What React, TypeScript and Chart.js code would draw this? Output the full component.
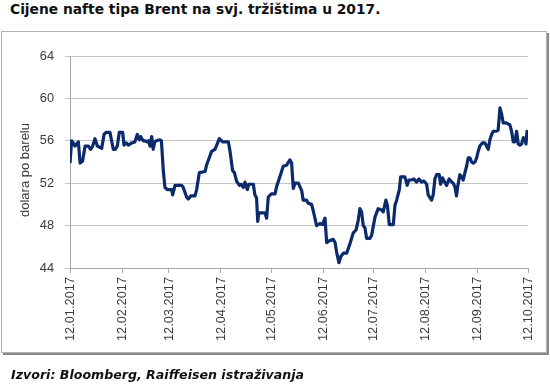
import React, { useEffect, useRef } from "react";
import { Chart, registerables } from "chart.js";

Chart.register(...registerables);

const TITLE = "Cijene nafte tipa Brent na svj. tržištima u 2017.";
const SOURCE = "Izvori: Bloomberg, Raiffeisen istraživanja";
const Y_TITLE = "dolara po barelu";

// x axis: days counted from 12.01.2017
const tickDays = [0, 31, 59, 90, 120, 151, 181, 212, 243, 273];
const tickLabels = [
  "12.01.2017", "12.02.2017", "12.03.2017", "12.04.2017", "12.05.2017",
  "12.06.2017", "12.07.2017", "12.08.2017", "12.09.2017", "12.10.2017",
];
const yMin = 44;
const yMax = 64;
const yStep = 4;

const dayOffsets = [
  0, 1, 2, 3, 5, 6, 7.5, 9, 11, 12.3, 13.5, 14.9, 16.3, 18.9, 20.3, 21.5, 23.8, 25.8, 27, 28.2,
  29.4, 31.4, 32.2, 33.5, 34.8, 36.8, 38.7, 40.1, 41.3, 42.1, 43.5, 44.7, 46, 46.8, 47.7, 48.7, 49.6, 50.5, 51.5, 53.6,
  54.5, 55.6, 56.6, 58, 60.6, 61.2, 62.6, 66.6, 67.5, 69.5, 70.5, 72, 74.5, 75.5, 77.1, 80.5, 81.4, 83, 84.4, 86.4,
  88, 89, 91, 94.4, 95.4, 96.9, 98, 99.3, 101, 102, 103.3, 104.3, 105.7, 106.5, 109.3, 110.2, 111.2, 111.9, 112.6, 116.2,
  117.2, 118.2, 120, 122.2, 123.2, 125.1, 127.1, 129.1, 131.1, 132.1, 133.1, 134.1, 136.1, 138.1, 139, 141, 142, 144, 145, 147,
  149, 150.5, 152, 153, 155, 156.9, 158, 158.9, 160.3, 161.5, 163, 164.9, 166.9, 168.8, 170.5, 171.8, 172.8, 173.8, 174.8, 175.8,
  176.8, 178.8, 179.8, 181.8, 183.7, 185.5, 186.7, 188.3, 189.2, 190.3, 192.7, 193.7, 194.7, 196.3, 197.1, 199.6, 201, 202, 203.6, 205,
  206.6, 208, 209.6, 211, 212.6, 213.5, 215.5, 216.5, 217.5, 218.5, 220.1, 220.9, 222.1, 223, 224.5, 226, 227, 228.4, 229.4, 230.4,
  231, 232.4, 233.4, 234.4, 235.4, 236.4, 237.4, 238.4, 239.4, 240.4, 241.4, 242.4, 243.3, 244.3, 245.8, 247.3, 248.3, 249.3, 250.3, 251.3,
  252.3, 254.2, 255.2, 256.3, 257.3, 258.2, 260, 262.2, 263.2, 264.2, 265.2, 266.2, 267.2, 268.2, 269.2, 270.2, 271.2, 271.8, 272.4, 273,
];

const prices = [
  53.9, 56.0, 55.8, 55.5, 55.9, 53.9, 54.1, 55.5, 55.5, 55.2, 55.5, 56.2, 55.5, 55.3, 56.6, 56.8, 56.8, 55.2, 55.2, 55.5,
  56.8, 56.8, 55.6, 55.8, 55.6, 55.8, 55.9, 56.6, 56.1, 56.4, 56.0, 56.0, 55.9, 56.0, 55.5, 56.4, 55.2, 55.9, 56.0, 56.1,
  56.0, 53.2, 51.6, 51.4, 51.4, 50.9, 51.8, 51.8, 51.6, 50.7, 50.5, 50.8, 50.8, 51.4, 53.0, 53.1, 53.7, 54.4, 55.0, 55.2,
  55.8, 56.2, 55.9, 55.9, 55.0, 53.2, 53.0, 52.2, 51.8, 51.9, 51.6, 52.1, 51.4, 51.9, 51.9, 50.9, 50.6, 48.4, 49.2, 49.2,
  48.7, 50.7, 51.0, 51.0, 51.7, 52.6, 53.6, 53.7, 54.2, 53.9, 51.5, 52.0, 52.0, 51.3, 50.4, 50.4, 50.1, 50.0, 49.4, 48.0,
  48.2, 48.1, 48.7, 46.4, 46.6, 46.7, 46.4, 45.5, 44.5, 45.1, 45.4, 45.4, 46.3, 47.3, 47.6, 48.5, 49.6, 49.3, 48.0, 47.8,
  46.8, 46.8, 47.1, 48.8, 49.6, 49.5, 49.3, 50.4, 49.9, 48.1, 48.1, 49.9, 50.4, 51.4, 52.6, 52.6, 51.8, 52.3, 52.3, 52.4,
  52.1, 52.4, 52.1, 52.2, 51.9, 50.9, 50.4, 50.9, 52.4, 52.8, 52.8, 51.9, 52.5, 52.2, 51.8, 52.4, 52.2, 52.0, 51.7, 50.8,
  51.6, 52.8, 52.6, 52.3, 53.0, 53.6, 54.4, 54.4, 54.0, 53.9, 54.0, 54.4, 55.0, 55.5, 55.8, 55.8, 55.5, 55.2, 56.1, 56.6,
  56.9, 56.9, 57.0, 59.1, 58.5, 57.7, 57.7, 57.5, 56.9, 55.9, 55.9, 56.9, 55.7, 55.6, 55.7, 56.3, 56.1, 55.7, 56.9, 56.7,
];

const LINE_COLOR = "#0b2a6b";
const TEXT_COLOR = "#3a3a3a";
const TICK_FONT = "'Liberation Sans', Arial, sans-serif";

export default function App() {
  const canvasRef = useRef<HTMLCanvasElement | null>(null);

  useEffect(() => {
    const canvas = canvasRef.current;
    if (!canvas) return;

    const yTitlePlugin = {
      id: "yTitlePlugin",
      afterDraw(chart: any) {
        const ctx = chart.ctx;
        ctx.save();
        ctx.translate(25, 170);
        ctx.rotate(-Math.PI / 2);
        ctx.fillStyle = TEXT_COLOR;
        ctx.font = `13px ${TICK_FONT}`;
        ctx.textAlign = "center";
        ctx.textBaseline = "middle";
        ctx.fillText(Y_TITLE, 0, 0);
        ctx.restore();
      },
    };

    const chart = new Chart(canvas, {
      type: "line",
      data: {
        datasets: [
          {
            data: dayOffsets.map((d, i) => ({ x: d, y: prices[i] })),
            borderColor: LINE_COLOR,
            backgroundColor: LINE_COLOR,
            borderWidth: 3.2,
            pointRadius: 0,
            tension: 0,
            fill: false,
            borderJoinStyle: "round",
          },
        ],
      },
      options: {
        responsive: false,
        animation: false,
        devicePixelRatio: 1,
        layout: { padding: { left: 0, right: 22, top: 56, bottom: 32 } },
        plugins: {
          legend: { display: false },
          tooltip: { enabled: false },
          title: { display: false },
        },
        scales: {
          x: {
            type: "linear",
            min: tickDays[0],
            max: tickDays[tickDays.length - 1],
            afterBuildTicks: (scale: any) => {
              scale.ticks = tickDays.map((v) => ({ value: v }));
            },
            afterFit: (scale: any) => {
              scale.height = 85;
            },
            ticks: {
              autoSkip: false,
              minRotation: 90,
              maxRotation: 90,
              padding: 4,
              color: TEXT_COLOR,
              font: { family: TICK_FONT, size: 12.8 },
              callback: (value: any) => {
                const i = tickDays.indexOf(Number(value));
                return i >= 0 ? tickLabels[i] : "";
              },
            },
            grid: {
              drawOnChartArea: false,
              drawTicks: true,
              tickLength: 5,
              color: "#a8a8a8",
            },
            border: { display: true, color: "#a8a8a8" },
          },
          y: {
            min: yMin,
            max: yMax,
            afterFit: (scale: any) => {
              scale.width = 70;
            },
            ticks: {
              stepSize: yStep,
              padding: 11,
              color: TEXT_COLOR,
              font: { family: TICK_FONT, size: 12.8 },
            },
            grid: {
              color: "#c4c4c4",
              lineWidth: 1,
              tickLength: 5,
            },
            border: { display: true, color: "#a8a8a8" },
          },
        },
      },
      plugins: [yTitlePlugin],
    } as any);

    return () => chart.destroy();
  }, []);

  return (
    <div style={{ position: "absolute", left: 0, top: 0, width: 550, height: 385, background: "#fff", overflow: "hidden" }}>
      <div
        style={{
          position: "absolute",
          left: 10,
          top: 1,
          fontFamily: "'DejaVu Sans', sans-serif",
          fontWeight: "bold",
          fontSize: 13.8,
          lineHeight: "17px",
          color: "#111",
          whiteSpace: "nowrap",
        }}
      >
        {TITLE}
      </div>
      <div
        style={{
          position: "absolute",
          left: 1,
          top: 31,
          width: 544,
          height: 320,
          border: "1px solid #b4b4b4",
          boxShadow: "2px 2px 0 #8a8a8a",
        }}
      />
      <canvas
        ref={canvasRef}
        width={550}
        height={385}
        style={{ position: "absolute", left: 0, top: 0, width: 550, height: 385 }}
      />
      <div
        style={{
          position: "absolute",
          left: 11,
          top: 367,
          fontFamily: "'DejaVu Sans', sans-serif",
          fontWeight: "bold",
          fontStyle: "italic",
          fontSize: 12.6,
          lineHeight: "16px",
          color: "#111",
          whiteSpace: "nowrap",
        }}
      >
        {SOURCE}
      </div>
    </div>
  );
}
